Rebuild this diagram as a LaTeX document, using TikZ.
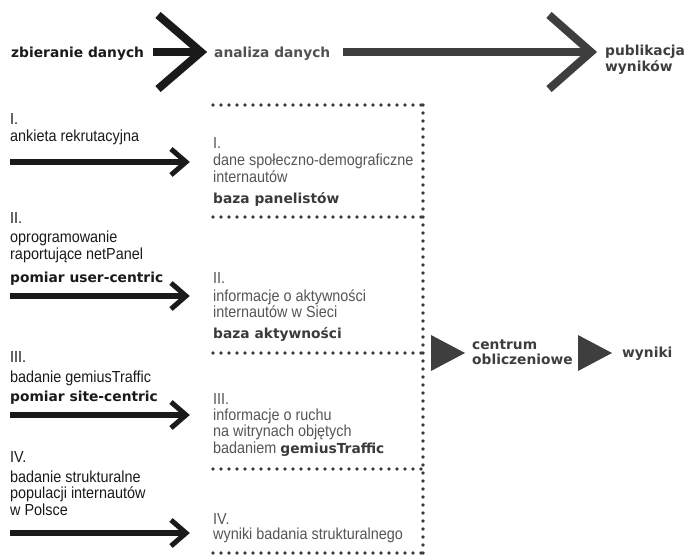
\documentclass[tikz,border=0pt]{standalone}
\usepackage{fontspec}
\setmainfont{Liberation Sans}[FakeStretch=0.9]
\newfontfamily\heavy{DejaVu Sans}
\usetikzlibrary{calc}
\definecolor{inkA}{HTML}{1A1A1A}
\definecolor{inkB}{HTML}{3E3E3E}
\definecolor{inkC}{HTML}{555555}
\definecolor{dotc}{HTML}{3A3A3A}
\tikzset{
  reg/.style={anchor=base west, inner sep=0pt, font=\fontsize{16}{17}\selectfont},
  hv/.style={anchor=base west, inner sep=0pt, font=\heavy\bfseries\fontsize{13.8}{15}\selectfont},
  lefttxt/.style={text=inkA},
  righttxt/.style={text=inkC},
  bigbar/.style={line width=7.5pt},
  bigchev/.style={line width=8pt, line join=miter, line cap=butt},
  smallbar/.style={line width=6.5pt, draw=inkA},
  smallchev/.style={line width=5pt, line join=miter, draw=inkA},
  dotline/.style={draw=dotc, line width=3.8pt, dash pattern=on 0pt off 8pt, line cap=round},
  tri/.style={fill=inkB}
}
\begin{document}
\begin{tikzpicture}[x=1pt,y=-1pt]
\useasboundingbox (0,0) rectangle (685,557);

% ---------- top row ----------
\node[hv, text=inkA] (zb) at (11,57) {zbieranie danych};
\node[hv, text=inkB!90] (an) at (214,57) {analiza danych};
\node[hv, text=inkB] (pub) at (605,55) {publikacja};
\node[hv, text=inkB] (pub2) at (605,71) {wyników};

\coordinate (b1s) at (153,52);
\coordinate (b1e) at (198,52);
\coordinate (c1t) at (201,52);
\draw[bigbar, draw=inkA] (b1s) -- (b1e);
\draw[bigchev, draw=inkA] ($(c1t)+(-43,-37)$) -- (c1t) -- ($(c1t)+(-43,37)$);

\coordinate (b2s) at (343,52);
\coordinate (b2e) at (588,52);
\coordinate (c2t) at (591,52);
\draw[bigbar, draw=inkB] (b2s) -- (b2e);
\draw[bigchev, draw=inkB] ($(c2t)+(-42,-37)$) -- (c2t) -- ($(c2t)+(-42,37)$);

% ---------- left column ----------
\node[reg, lefttxt] (l1n) at (10,124) {I.};
\node[reg, lefttxt] (l1a) at (10,141) {ankieta rekrutacyjna};

\node[reg, lefttxt] (l2n) at (10,223) {II.};
\node[reg, lefttxt] (l2a) at (10,242) {oprogramowanie};
\node[reg, lefttxt] (l2b) at (10,259) {raportujące netPanel};
\node[hv, lefttxt] (l2c) at (10,282) {pomiar user-centric};

\node[reg, lefttxt] (l3n) at (10,362) {III.};
\node[reg, lefttxt] (l3a) at (10,382) {badanie gemiusTraffic};
\node[hv, lefttxt] (l3b) at (10,401) {pomiar site-centric};

\node[reg, lefttxt] (l4n) at (10,462) {IV.};
\node[reg, lefttxt] (l4a) at (10,482) {badanie strukturalne};
\node[reg, lefttxt] (l4b) at (10,498) {populacji internautów};
\node[reg, lefttxt] (l4c) at (10,515) {w Polsce};

% left arrows
\foreach \n/\y in {1/162,2/296,3/415,4/533}{
  \coordinate (a\n s) at (10,\y);
  \coordinate (a\n e) at (184,\y);
  \coordinate (a\n t) at (186,\y);
  \draw[smallbar] (a\n s) -- (a\n e);
  \draw[smallchev] ($(a\n t)+(-15,-13)$) -- (a\n t) -- ($(a\n t)+(-15,13)$);
}

% ---------- right column ----------
\node[reg, righttxt] (r1n) at (213,148) {I.};
\node[reg, righttxt] (r1a) at (213,165) {dane społeczno-demograficzne};
\node[reg, righttxt] (r1b) at (213,182) {internautów};
\node[hv, text=dotc] (r1c) at (213,203) {baza panelistów};

\node[reg, righttxt] (r2n) at (213,283) {II.};
\node[reg, righttxt] (r2a) at (213,301) {informacje o aktywności};
\node[reg, righttxt] (r2b) at (213,317) {internautów w Sieci};
\node[hv, text=dotc] (r2c) at (213,338) {baza aktywności};

\node[reg, righttxt] (r3n) at (213,404) {III.};
\node[reg, righttxt] (r3a) at (213,420) {informacje o ruchu};
\node[reg, righttxt] (r3b) at (213,436) {na witrynach objętych};
\node[reg, righttxt] (r3c) at (213,453) {badaniem {\heavy\bfseries\fontsize{13.8}{15}\selectfont\color{dotc}gemiusTraffic}};

\node[reg, righttxt] (r4n) at (213,524) {IV.};
\node[reg, righttxt] (r4a) at (213,539) {wyniki badania strukturalnego};

% dotted frame
\coordinate (fR0) at (423,105);
\coordinate (fR4) at (423,553);
\draw[dotline] (fR0) -- (fR4);
\foreach \k/\y in {0/105,1/217,2/353,3/469,4/553}{
  \coordinate (fL\k) at (213,\y);
  \coordinate (fE\k) at (423,\y);
  \draw[dotline] (fL\k) -- (fE\k);
}

% ---------- computing centre ----------
\coordinate (t1a) at (431,335);
\coordinate (t1b) at (465,353);
\coordinate (t1c) at (431,371);
\fill[tri] (t1a) -- (t1b) -- (t1c) -- cycle;
\node[hv, text=inkB] (cc1) at (472,349) {centrum};
\node[hv, text=inkB] (cc2) at (472,364) {obliczeniowe};

\coordinate (t2a) at (578,335);
\coordinate (t2b) at (612,353);
\coordinate (t2c) at (578,371);
\fill[tri] (t2a) -- (t2b) -- (t2c) -- cycle;
\node[hv, text=inkB] (wy) at (622,357) {wyniki};
\end{tikzpicture}
\end{document}
